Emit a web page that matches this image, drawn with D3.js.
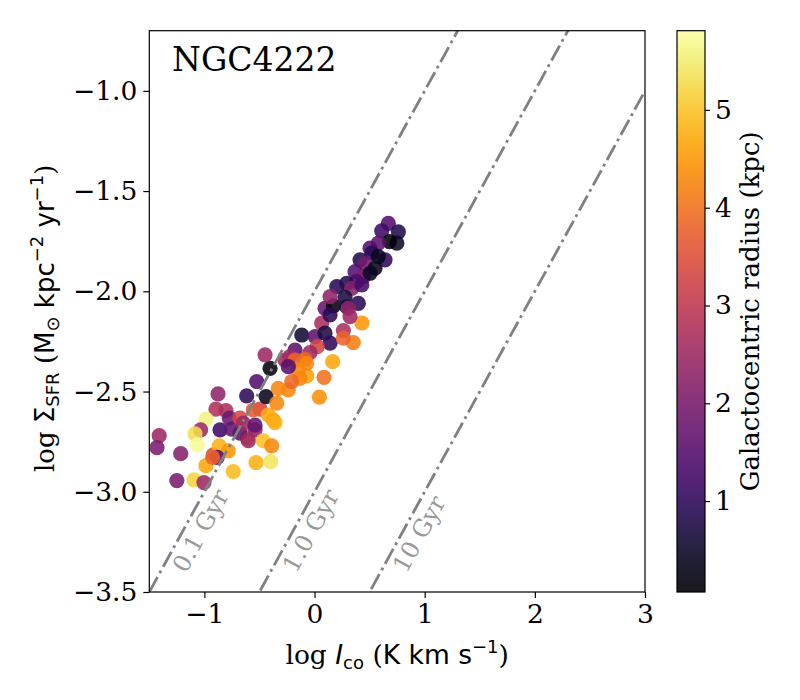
<!DOCTYPE html>
<html>
<head>
<meta charset="utf-8">
<script src="https://cdn.jsdelivr.net/npm/d3@7"></script>
<style>
  body { margin: 0; background: #fff; }
  text { font-family: "DejaVu Serif", serif; }
  .sans { font-family: "DejaVu Sans", sans-serif; }
</style>
</head>
<body>
<div id="chart"></div>
<script>
// data
var logIco = [
  -1.41, -1.43, -1.215, -1.25, -1.094, -1.004, -0.876, -0.895, -0.986, -1.034,
  -1.085, -1.064, -0.919, -0.865, -0.858, -0.804, -0.774, -0.752, -0.783, -0.883,
  -0.986, -0.925, -0.738, -0.616, -0.61, -0.677, -0.54, -0.601, -0.531, -0.398,
  -0.465, -0.389, -0.495, -0.556, -0.44, -0.525, -0.404, -0.374, -0.42, -0.677,
  0.43, 0.352, 0.165, 0.086, 0.044, -0.071, 0.262, 0.065, 0.095, 0.171,
  0.292, 0.398, -0.116, 0.005, 0.095, 0.141, 0.025, -0.041, -0.177, -0.223,
  -0.268, -0.177, -0.086, -0.147, -0.132, -0.238, -0.207, -0.329, -0.343, -0.359,
  -0.449, -0.646, -0.54, -0.071, 0.262, -0.238,
  0.67, 0.761, 0.61, 0.747, 0.68, 0.579, 0.504, 0.52, 0.64, 0.579,
  0.413, 0.459, 0.549, 0.368, 0.444, 0.504, 0.383, 0.292, 0.202, 0.338,
  0.429, 0.141, 0.277, 0.307, 0.141, 0.322
];
var logSigmaSFR = [
  -2.72, -2.78, -2.81, -2.944, -2.941, -2.954, -2.512, -2.588, -2.637, -2.691,
  -2.711, -2.766, -2.816, -2.771, -2.691, -2.595, -2.633, -2.688, -2.796, -2.828,
  -2.87, -2.828, -2.899, -2.522, -2.731, -2.708, -2.691, -2.745, -2.855, -2.85,
  -2.745, -2.771, -2.588, -2.592, -2.525, -2.45, -2.384, -2.642, -2.617, -2.633,
  -2.158, -2.256, -2.351, -2.429, -2.528, -2.422, -2.196, -2.159, -2.085, -2.073,
  -2.077, -2.06, -2.218, -2.226, -2.209, -2.259, -2.276, -2.306, -2.293, -2.326,
  -2.343, -2.343, -2.339, -2.392, -2.434, -2.492, -2.45, -2.484, -2.558, -2.655,
  -2.317, -2.658, -2.668, -2.359, -2.234, -2.376,
  -1.661, -1.703, -1.698, -1.76, -1.752, -1.76, -1.785, -1.81, -1.843, -1.827,
  -1.843, -1.863, -1.885, -1.902, -1.927, -1.91, -1.952, -1.96, -1.977, -1.985,
  -1.968, -2.027, -2.03, -2.085, -2.118, -2.126
];
var radius = [
  2.5, 2.0, 2.2, 2.0, 5.2, 2.5, 2.3, 2.8, 5.6, 2.5,
  5.3, 5.7, 3.5, 4.8, 1.2, 2.7, 1.8, 1.7, 4.5, 1.5,
  4.7, 3.8, 4.9, 1.0, 4.3, 1.6, 2.3, 2.5, 4.8, 5.4,
  5.0, 4.3, 3.3, 3.7, 0.4, 1.5, 0.2, 4.5, 4.7, 3.3,
  4.5, 4.2, 4.7, 4.0, 4.4, 4.6, 2.7, 2.7, 1.7, 0.2,
  0.7, 0.9, 0.6, 1.6, 0.7, 1.0, 3.3, 2.5, 1.6, 2.5,
  2.6, 3.8, 3.8, 4.3, 4.3, 4.3, 3.9, 4.3, 4.3, 4.8,
  2.5, 2.5, 1.7, 4.3, 3.8, 1.5,
  1.5, 0.8, 1.2, 0.5, 0.2, 1.6, 1.5, 0.9, 1.0, 0.4,
  0.8, 1.9, 0.4, 1.5, 2.1, 0.4, 1.4, 0.8, 0.9, 2.2,
  1.3, 2.3, 0.7, 2.3, 0.9, 2.5
];

// depletion time lines
var tdepGyr = [0.1, 1.0, 10];
var tdepLabels = ['0.1 Gyr', '1.0 Gyr', '10 Gyr'];
var lineZero = -3.0;   // log SFR at log Ico = 0 for 1 Gyr

var xTicks = [-1, 0, 1, 2, 3];
var yTicks = [-3.5, -3.0, -2.5, -2.0, -1.5, -1.0];
var cbTicks = [1, 2, 3, 4, 5];
var radiusRange = [0.07, 5.81];

var width = 800, height = 700;
var plot = { left: 149.3, top: 30.7, width: 495.7, height: 561.3 };
var cbar = { left: 677, width: 28 };

var svg = d3.select('#chart').append('svg')
  .attr('width', width)
  .attr('height', height);

var x = d3.scaleLinear().domain([-1.5, 3]).range([plot.left, plot.left + plot.width]);
var y = d3.scaleLinear().domain([-3.5, -0.7]).range([plot.top + plot.height, plot.top]);
var color = d3.scaleSequential(d3.interpolateInferno).domain(radiusRange);
var minus = function(s) { return s.replace('-', '\u2212'); };

svg.append('clipPath').attr('id', 'clip')
  .append('rect')
  .attr('x', plot.left).attr('y', plot.top)
  .attr('width', plot.width).attr('height', plot.height);

// scatter
var pts = d3.range(logIco.length).map(function(i) {
  return { x: logIco[i], y: logSigmaSFR[i], r: radius[i] };
});

svg.append('g')
  .attr('clip-path', 'url(#clip)')
  .selectAll('circle')
  .data(pts)
  .enter().append('circle')
  .attr('cx', function(d) { return x(d.x); })
  .attr('cy', function(d) { return y(d.y); })
  .attr('r', 7.6)
  .attr('fill', function(d) { return color(d.r); })
  .attr('fill-opacity', 0.88);

// depletion lines
var lineG = svg.append('g').attr('clip-path', 'url(#clip)');
var xd = x.domain();
var ang = Math.atan2(y(1) - y(0), x(1) - x(0)) * 180 / Math.PI;
tdepGyr.forEach(function(t, i) {
  var b = lineZero - Math.log10(t);
  lineG.append('line')
    .attr('x1', x(xd[0])).attr('y1', y(xd[0] + b))
    .attr('x2', x(xd[1])).attr('y2', y(xd[1] + b))
    .attr('stroke', '#808080')
    .attr('stroke-width', 2.8)
    .attr('stroke-dasharray', '17,4.5,2.8,4.5');

  // label just below the line, rotated with it
  var ly = -3.41;
  svg.append('text')
    .attr('transform', 'translate(' + (x(ly - b) + 27) + ',' + y(ly) + ') rotate(' + ang + ')')
    .attr('fill', '#999999')
    .style('font-size', '24px')
    .text(tdepLabels[i]);
});

// frame
svg.append('rect')
  .attr('x', plot.left).attr('y', plot.top)
  .attr('width', plot.width).attr('height', plot.height)
  .attr('fill', 'none').attr('stroke', '#000').attr('stroke-width', 1.2);

// axes
var xAxis = svg.append('g')
  .attr('transform', 'translate(0,' + (plot.top + plot.height) + ')')
  .call(d3.axisBottom(x).tickValues(xTicks).tickSize(6).tickPadding(6)
    .tickFormat(function(d) { return minus(d3.format('d')(d)); }));
var yAxis = svg.append('g')
  .attr('transform', 'translate(' + plot.left + ',0)')
  .call(d3.axisLeft(y).tickValues(yTicks).tickSize(6).tickPadding(6)
    .tickFormat(function(d) { return minus(d3.format('.1f')(d)); }));
[xAxis, yAxis].forEach(function(g) {
  g.select('.domain').remove();
  g.selectAll('.tick line').attr('stroke', '#000').attr('stroke-width', 1.2);
  g.selectAll('.tick text').attr('fill', '#000')
    .style('font-family', '"DejaVu Serif", serif').style('font-size', '26.5px');
});

// title
svg.append('text')
  .attr('x', 172).attr('y', 71)
  .style('font-size', '33px')
  .text('NGC4222');

// x label: log I_co (K km s^-1)
var xl = svg.append('text')
  .attr('x', plot.left + plot.width / 2).attr('y', 664)
  .attr('text-anchor', 'middle')
  .style('font-size', '26.5px');
xl.append('tspan').text('log ');
xl.append('tspan').attr('class', 'sans').style('font-style', 'italic').text('I');
xl.append('tspan').attr('class', 'sans').attr('dy', 5).style('font-size', '18px').text('co');
xl.append('tspan').attr('dy', -5).text(' (');
xl.append('tspan').attr('class', 'sans').text('K km s');
xl.append('tspan').attr('class', 'sans').attr('dy', -11).style('font-size', '18px').text('\u22121');
xl.append('tspan').attr('dy', 11).text(')');

// y label: log Sigma_SFR (Msun kpc^-2 yr^-1)
var yl = svg.append('text')
  .attr('transform', 'translate(54,' + (plot.top + plot.height / 2 + 7) + ') rotate(-90)')
  .attr('text-anchor', 'middle')
  .style('font-size', '26px');
yl.append('tspan').text('log ');
yl.append('tspan').attr('class', 'sans').text('\u03a3');
yl.append('tspan').attr('class', 'sans').attr('dy', 5).style('font-size', '18px').text('SFR');
yl.append('tspan').attr('dy', -5).text(' (');
yl.append('tspan').attr('class', 'sans').text('M');
yl.append('tspan').attr('class', 'sans').attr('dy', 5).style('font-size', '18px').text('\u2299');
yl.append('tspan').attr('class', 'sans').attr('dy', -5).text(' kpc');
yl.append('tspan').attr('class', 'sans').attr('dy', -11).style('font-size', '18px').text('\u22122');
yl.append('tspan').attr('class', 'sans').attr('dy', 11).text(' yr');
yl.append('tspan').attr('class', 'sans').attr('dy', -11).style('font-size', '18px').text('\u22121');
yl.append('tspan').attr('dy', 11).text(')');

// colorbar
var cy = d3.scaleLinear().domain(radiusRange).range([plot.top + plot.height, plot.top]);
var grad = svg.append('defs').append('linearGradient')
  .attr('id', 'cbgrad')
  .attr('x1', 0).attr('y1', 1).attr('x2', 0).attr('y2', 0);
d3.range(0, 1.0001, 0.05).forEach(function(t) {
  grad.append('stop')
    .attr('offset', t)
    .attr('stop-color', d3.interpolateInferno(t))
    .attr('stop-opacity', 0.9);
});
svg.append('rect')
  .attr('x', cbar.left).attr('y', plot.top)
  .attr('width', cbar.width).attr('height', plot.height)
  .attr('fill', 'url(#cbgrad)')
  .attr('stroke', '#000').attr('stroke-width', 1.2);

var cAxis = svg.append('g')
  .attr('transform', 'translate(' + (cbar.left + cbar.width) + ',0)')
  .call(d3.axisRight(cy).tickValues(cbTicks).tickSize(5).tickPadding(5)
    .tickFormat(d3.format('d')));
cAxis.select('.domain').remove();
cAxis.selectAll('.tick line').attr('stroke', '#000').attr('stroke-width', 1.2);
cAxis.selectAll('.tick text').attr('fill', '#000')
  .style('font-family', '"DejaVu Serif", serif').style('font-size', '26.5px');

svg.append('text')
  .attr('transform', 'translate(759,' + (plot.top + plot.height / 2) + ') rotate(-90)')
  .attr('text-anchor', 'middle')
  .style('font-size', '26px')
  .text('Galactocentric radius (kpc)');
</script>
</body>
</html>
